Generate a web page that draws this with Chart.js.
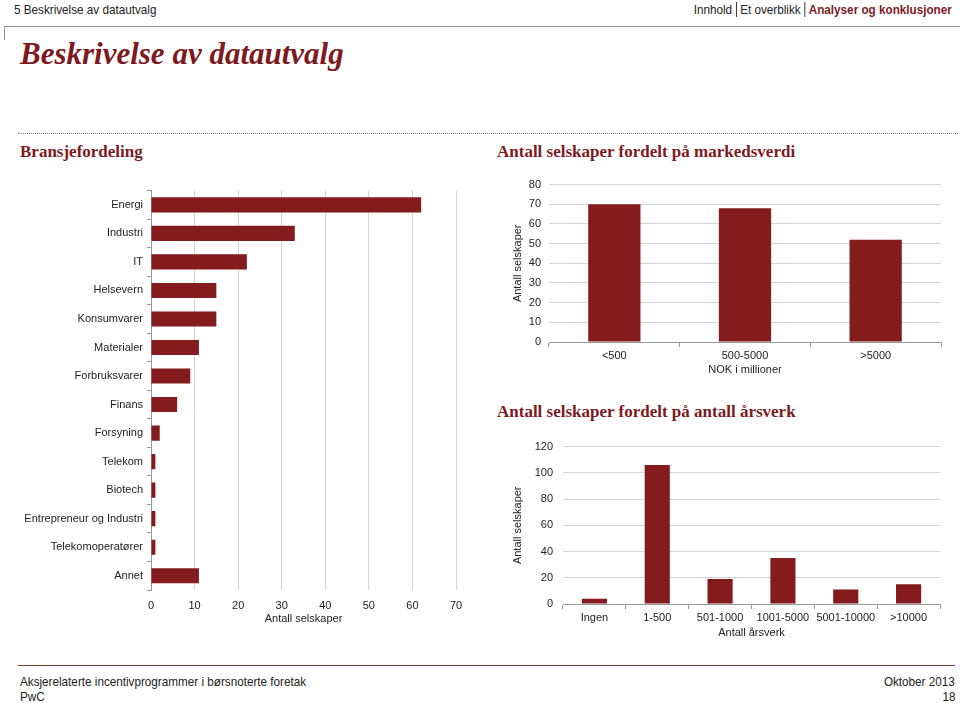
<!DOCTYPE html>
<html lang="no">
<head>
<meta charset="UTF-8" />
<title>Beskrivelse av datautvalg</title>
<script src="https://cdn.jsdelivr.net/npm/chart.js"></script>
<style>
    body {
        margin: 0;
        padding: 0;
        background: #fff;
        width: 960px;
        height: 703px;
        position: relative;
        overflow: hidden;
        font-family: "Liberation Sans", Arial, sans-serif;
        color: #222;
    }
    .abs { position: absolute; white-space: nowrap; }
    .small { font-size: 13px; line-height: 15px; transform: scaleX(0.9); transform-origin: left top; }
    .small.r { transform-origin: right top; }
    .red { color: #7d1a1f; }
    .serif { font-family: "Liberation Serif", "DejaVu Serif", serif; font-weight: bold; }
    .sep { border-left: 1px solid #222; margin: 0 4px; }
    canvas { position: absolute; }
</style>
</head>
<body>

<!-- topptekst -->
<div class="abs small" style="left:14px; top:2px;">5 Beskrivelse av datautvalg</div>
<div class="abs small r" style="right:8px; top:2px;">Innhold<span class="sep"></span>Et overblikk<span class="sep"></span><b class="red">Analyser og konklusjoner</b></div>
<div class="abs" style="left:4px; top:26px; width:956px; border-top:1px solid #a08c8c;"></div>
<div class="abs" style="left:4px; top:26px; height:14px; border-left:1px solid #a08c8c;"></div>

<div class="abs serif red" style="left:20px; top:36px; font-size:31px; font-style:italic;">Beskrivelse av datautvalg</div>

<div class="abs" style="left:18px; top:133px; width:940px; border-top:1px dotted #a08080;"></div>

<div class="abs serif red" style="left:20px; top:142px; font-size:17px;">Bransjefordeling</div>
<div class="abs serif red" style="left:497px; top:142px; font-size:17px;">Antall selskaper fordelt på markedsverdi</div>
<div class="abs serif red" style="left:497px; top:402px; font-size:17px;">Antall selskaper fordelt på antall årsverk</div>

<canvas id="bransjeChart" width="480" height="455" style="left:0; top:180px;"></canvas>
<canvas id="verdiChart" width="480" height="215" style="left:480px; top:170px;"></canvas>
<canvas id="aarsverkChart" width="480" height="215" style="left:480px; top:430px;"></canvas>

<!-- bunntekst -->
<div class="abs" style="left:18px; top:665px; width:937px; border-top:1px solid #8a3a3a;"></div>
<div class="abs small" style="left:20px; top:674px;">Aksjerelaterte incentivprogrammer i børsnoterte foretak</div>
<div class="abs small" style="left:20px; top:689px;">PwC</div>
<div class="abs small r" style="right:5px; top:674px;">Oktober 2013</div>
<div class="abs small r" style="right:5px; top:689px;">18</div>

<script>
    // Data lest av figuren
    const bransjer = ['Energi', 'Industri', 'IT', 'Helsevern', 'Konsumvarer', 'Materialer', 'Forbruksvarer',
        'Finans', 'Forsyning', 'Telekom', 'Biotech', 'Entrepreneur og Industri', 'Telekomoperatører', 'Annet'];
    const bransjeAntall = [62, 33, 22, 15, 15, 11, 9, 6, 2, 1, 1, 1, 1, 11];

    const verdiKlasser = ['<500', '500-5000', '>5000'];
    const verdiAntall = [70, 68, 52];

    const aarsverkKlasser = ['Ingen', '1-500', '501-1000', '1001-5000', '5001-10000', '>10000'];
    const aarsverkAntall = [4, 106, 19, 35, 11, 15];

    const barColor = '#841b1d';
    const gridColor = '#d4d4d4';
    const tickFont = { family: 'Liberation Sans', size: 11 };
    Chart.defaults.color = '#222';
    Chart.defaults.font.family = 'Liberation Sans';
    Chart.defaults.font.size = 11;

    const baseOptions = {
        responsive: false,
        animation: false,
        devicePixelRatio: 1,
        plugins: { legend: { display: false }, tooltip: { enabled: false } }
    };

    // Bransjefordeling (liggende stolper)
    new Chart(document.getElementById('bransjeChart'), {
        type: 'bar',
        data: {
            labels: bransjer,
            datasets: [{
                data: bransjeAntall,
                backgroundColor: barColor,
                barPercentage: 0.53,
                categoryPercentage: 1
            }]
        },
        options: {
            ...baseOptions,
            indexAxis: 'y',
            layout: { padding: { top: 10, right: 24, left: 0, bottom: 0 } },
            scales: {
                x: {
                    min: 0,
                    max: 70,
                    ticks: { stepSize: 10, font: tickFont, padding: 9 },
                    grid: { color: gridColor, drawTicks: false },
                    border: { display: false },
                    title: { display: true, text: 'Antall selskaper', font: tickFont, padding: { top: 0, bottom: 9 } },
                    afterFit: s => { s.height = 45; }
                },
                y: {
                    ticks: { font: tickFont, padding: 4 },
                    grid: { offset: true, drawOnChartArea: false, drawTicks: true, tickLength: 4, color: '#9a9a9a' },
                    border: { display: true, color: '#9a9a9a' },
                    afterFit: s => { s.width = 151; }
                }
            }
        }
    });

    // Markedsverdi
    new Chart(document.getElementById('verdiChart'), {
        type: 'bar',
        data: {
            labels: verdiKlasser,
            datasets: [{
                data: verdiAntall,
                backgroundColor: barColor,
                barPercentage: 0.4,
                categoryPercentage: 1
            }]
        },
        options: {
            ...baseOptions,
            layout: { padding: { top: 13, right: 19, left: 0, bottom: 0 } },
            scales: {
                x: {
                    ticks: { font: tickFont, padding: 2 },
                    grid: { offset: true, drawOnChartArea: false, drawTicks: true, tickLength: 5, color: '#9a9a9a' },
                    border: { display: true, color: '#9a9a9a' },
                    title: { display: true, text: 'NOK i millioner', font: tickFont, padding: { top: 0, bottom: 8 } },
                    afterFit: s => { s.height = 43; }
                },
                y: {
                    min: 0,
                    max: 80,
                    ticks: { stepSize: 10, font: tickFont, padding: 8 },
                    grid: { color: gridColor, drawTicks: false },
                    border: { display: false },
                    title: { display: true, text: 'Antall selskaper', font: tickFont, padding: { top: 31, bottom: 0 } },
                    afterFit: s => { s.width = 69; }
                }
            }
        }
    });

    // Årsverk
    new Chart(document.getElementById('aarsverkChart'), {
        type: 'bar',
        data: {
            labels: aarsverkKlasser,
            datasets: [{
                data: aarsverkAntall,
                backgroundColor: barColor,
                barPercentage: 0.4,
                categoryPercentage: 1
            }]
        },
        options: {
            ...baseOptions,
            layout: { padding: { top: 15, right: 20, left: 0, bottom: 0 } },
            scales: {
                x: {
                    ticks: { font: tickFont, padding: 2, maxRotation: 0, autoSkip: false },
                    grid: { offset: true, drawOnChartArea: false, drawTicks: true, tickLength: 5, color: '#9a9a9a' },
                    border: { display: true, color: '#9a9a9a' },
                    title: { display: true, text: 'Antall årsverk', font: tickFont, padding: { top: 0, bottom: 5 } },
                    afterFit: s => { s.height = 41; }
                },
                y: {
                    min: 0,
                    max: 120,
                    ticks: { stepSize: 20, font: tickFont, padding: 10 },
                    grid: { color: gridColor, drawTicks: false },
                    border: { display: false },
                    title: { display: true, text: 'Antall selskaper', font: tickFont, padding: { top: 31, bottom: 0 } },
                    afterFit: s => { s.width = 83; }
                }
            }
        }
    });
</script>
</body>
</html>
